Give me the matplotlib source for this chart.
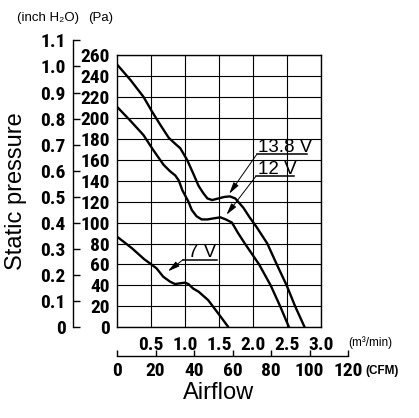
import matplotlib
matplotlib.use("Agg")
import matplotlib.pyplot as plt
import matplotlib.font_manager as fm

# ---------------- data ----------------
v138_m3 = [0, 0.2, 0.39, 0.515, 0.64, 0.76, 0.86, 0.93, 1.03, 1.12, 1.2, 1.27, 1.33, 1.4,
           1.49, 1.58, 1.66, 1.74, 1.86, 1.95, 2.05, 2.21, 2.35, 2.495, 2.62, 2.76]
v138_pa = [251, 236, 220, 206, 193, 181, 175, 171, 160, 147, 135, 128, 123, 121.5,
           123, 124.5, 125, 123, 114, 105, 96, 80, 60, 40, 20, 0]

v12_m3 = [0, 0.2, 0.39, 0.515, 0.6, 0.687, 0.78, 0.857, 0.91, 0.96, 1.05, 1.1, 1.17, 1.245,
          1.33, 1.42, 1.52, 1.6, 1.69, 1.78, 1.88, 2.09, 2.26, 2.40, 2.53]
v12_pa = [210.6, 197, 183.5, 171, 163, 155, 149, 145, 140, 131, 120, 112, 106, 103,
          103, 104, 105, 103, 100, 90, 80, 60, 40, 20, 0]

v7_m3 = [0, 0.22, 0.4, 0.485, 0.58, 0.68, 0.78, 0.853, 0.93, 1.0, 1.05, 1.12, 1.2, 1.34, 1.505, 1.64]
v7_pa = [86.6, 75.5, 65, 61, 56.4, 48.3, 43.6, 41.3, 42, 42.6, 41.3, 37, 34, 26, 11.8, 0]

pa_ticks = list(range(0, 261, 20))
inch_ticks = [0, 0.1, 0.2, 0.3, 0.4, 0.5, 0.6, 0.7, 0.8, 0.9, 1.0, 1.1]
inch_labels = ["0", "0.1", "0.2", "0.3", "0.4", "0.5", "0.6", "0.7", "0.8", "0.9", "1.0", "1.1"]
m3_ticks = [0.5, 1.0, 1.5, 2.0, 2.5, 3.0]
m3_labels = ["0.5", "1.0", "1.5", "2.0", "2.5", "3.0"]
cfm_ticks = [0, 20, 40, 60, 80, 100, 120]

labels = ["13.8 V", "12 V", "7 V"]
PA_PER_INCH = 249.09
CFM_PER_M3 = 35.3147

# ---------------- fonts ----------------
names = {f.name for f in fm.fontManager.ttflist}
COND = "Liberation Sans"
for cand in ["Roboto Condensed", "Archivo Narrow", "PT Sans Narrow", "Asap Condensed"]:
    if cand in names:
        COND = cand
        break
REG = ["Liberation Sans", "DejaVu Sans"]
tickfont = dict(family=[COND, "DejaVu Sans"], weight="bold", size=14)

W, H = 419, 418
fig = plt.figure(figsize=(W / 100, H / 100), dpi=100)


def fx(x):
    return x / W


def fy(y):
    return 1 - y / H


# main axes (pixel geometry)
L, R, T, B = 117, 321, 55, 327.3
ax = fig.add_axes([fx(L), fy(B), (R - L) / W, (B - T) / H])
ax.set_xlim(0, 3.0)
ax.set_ylim(0, 260)
ax.set_yticks(pa_ticks)
ax.set_yticklabels([str(v) for v in pa_ticks], fontdict=tickfont)
ax.set_xticks(m3_ticks)
ax.set_xticklabels(m3_labels, fontdict=tickfont)
ax.tick_params(axis="both", length=0)
ax.tick_params(axis="y", pad=5)
ax.tick_params(axis="x", pad=6)
ax.grid(True, color="black", lw=0.8)
for s in ax.spines.values():
    s.set_linewidth(1.0)
    s.set_color("black")

for xs, ys in [(v138_m3, v138_pa), (v12_m3, v12_pa), (v7_m3, v7_pa)]:
    ax.plot(xs, ys, color="black", lw=1.7, solid_capstyle="butt", zorder=3)

# annotations: (label, text x, text baseline y, underline x0, x1, arrow tip)
ann = [
    (labels[0], 2.08, 166.5, 2.054, 2.80, (1.65, 127.5)),
    (labels[1], 2.08, 145.5, 2.04, 2.60, (1.61, 107.5)),
    (labels[2], 1.04, 66.2, 0.975, 1.466, (0.75, 53.5)),
]
for lab, tx, ty, u0, u1, tip in ann:
    ax.text(tx, ty + 1.0, lab, family=REG, size=13.5, ha="left", va="baseline", zorder=5)
    ax.plot([u0, u1], [ty - 1.5, ty - 1.5], color="black", lw=1.1, zorder=5)
    ax.annotate("", xy=tip, xytext=(u0, ty - 1.5),
                arrowprops=dict(arrowstyle="-|>,head_length=0.7,head_width=0.18",
                                color="black", lw=0.7, shrinkA=0, shrinkB=0), zorder=5)

# inch H2O axis
main_h = (B - T) / H
ax2 = fig.add_axes([fx(72.5), fy(B), 0.0001, main_h * 1.1 * PA_PER_INCH / 260])
ax2.set_ylim(0, 1.1)
ax2.set_xticks([])
ax2.set_yticks(inch_ticks)
ax2.set_yticklabels(inch_labels, fontdict=tickfont)
ax2.tick_params(axis="y", direction="in", length=5, width=1, pad=5)
for k in ["right", "top", "bottom"]:
    ax2.spines[k].set_visible(False)
ax2.spines["left"].set_linewidth(1.0)
ax2.patch.set_visible(False)

# CFM axis
main_w = (R - L) / W
ax3 = fig.add_axes([fx(L), fy(356), main_w * 120 / (3.0 * CFM_PER_M3), 0.0001])
ax3.set_xlim(0, 120)
ax3.set_yticks([])
ax3.set_xticks(cfm_ticks)
ax3.set_xticklabels([str(v) for v in cfm_ticks], fontdict=tickfont)
ax3.tick_params(axis="x", direction="in", length=4, width=1, pad=4)
for k in ["left", "right", "top"]:
    ax3.spines[k].set_visible(False)
ax3.spines["bottom"].set_linewidth(1.0)
ax3.patch.set_visible(False)

# texts
fig.text(fx(17), fy(18), "(inch H₂O)", family=REG, size=9.5, ha="left", va="center")
fig.text(fx(88), fy(18), "(Pa)", family=REG, size=9.5, ha="left", va="center")
fig.text(fx(348), fy(343), "(m³/min)", family=REG, size=8.5, ha="left", va="center")
fig.text(fx(365), fy(371), "(CFM)", family=REG, size=8.5, weight="bold", ha="left", va="center")
fig.text(fx(219), fy(393), "Airflow", family=REG, size=17, ha="center", va="center")
fig.text(fx(16), fy(191.5), "Static pressure", family=REG, size=17, ha="center", va="center",
         rotation=90)

fig.savefig("out.png", dpi=100)
